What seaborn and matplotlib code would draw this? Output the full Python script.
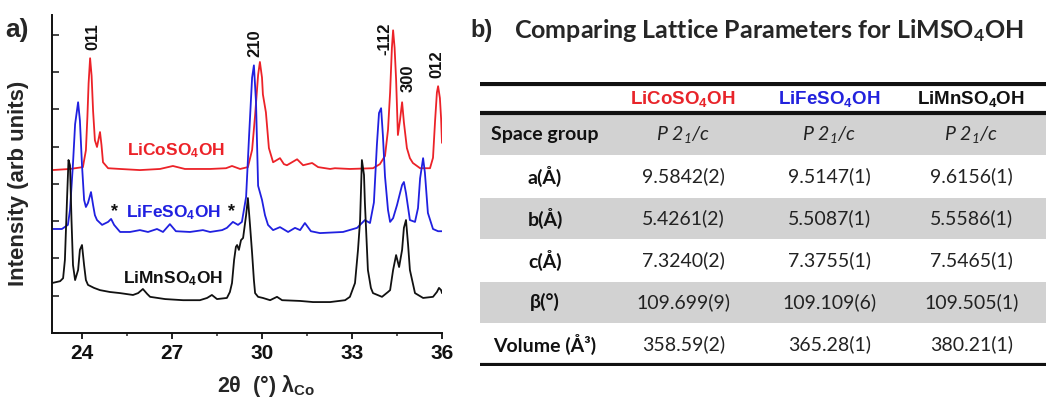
import numpy as np
import pandas as pd
import matplotlib
matplotlib.use("Agg")
import matplotlib.pyplot as plt
from matplotlib.ticker import MultipleLocator
import seaborn as sns

# ---------------- data: panel a (XRD patterns) ----------------
co_2theta = [23.0, 23.6, 24.03, 24.13, 24.18, 24.22, 24.27, 24.32, 24.37, 24.43, 24.5, 24.6, 24.65, 24.7,
             24.87, 25.27, 25.93, 26.6, 27.03, 27.43, 28.27, 28.8, 29.0, 29.27, 29.53, 29.67, 29.77,
             29.87, 29.93, 30.0, 30.03, 30.13, 30.23, 30.37, 30.6, 30.73, 30.83, 31.17, 31.37, 31.67,
             31.87, 32.27, 32.43, 32.93, 33.7, 33.93, 34.1, 34.2, 34.27, 34.33, 34.37, 34.42, 34.47,
             34.53, 34.6, 34.67, 34.73, 34.83, 34.93, 35.03, 35.27, 35.6, 35.7, 35.77, 35.83, 35.87,
             35.93, 35.97, 36.0]
co_int = [4.37, 4.40, 4.45, 4.90, 5.80, 6.70, 7.37, 6.90, 5.95, 5.17, 4.99, 5.39, 5.04, 4.58,
          4.42, 4.40, 4.37, 4.40, 4.48, 4.40, 4.40, 4.42, 4.48, 4.40, 4.45, 4.91, 5.84,
          6.92, 7.27, 6.85, 6.40, 5.92, 4.96, 4.58, 4.69, 4.53, 4.50, 4.66, 4.50, 4.56,
          4.45, 4.40, 4.42, 4.40, 4.42, 4.53, 4.75, 5.45, 6.45, 7.65, 8.12, 7.65, 6.80,
          5.31, 5.71, 6.19, 5.65, 4.96, 4.69, 4.56, 4.42, 4.42, 4.70, 5.70, 6.45, 6.62,
          6.30, 5.75, 5.10]

fe_2theta = [23.0, 23.33, 23.53, 23.6, 23.7, 23.77, 23.87, 23.93, 24.0, 24.07, 24.13, 24.2, 24.3,
             24.37, 24.43, 24.5, 24.67, 24.87, 24.97, 25.07, 25.27, 25.6, 25.93, 26.2, 26.5, 26.7,
             26.93, 27.13, 27.6, 28.03, 28.27, 28.67, 28.83, 29.03, 29.2, 29.33, 29.47, 29.57,
             29.67, 29.73, 29.8, 29.87, 30.0, 30.1, 30.2, 30.37, 30.6, 30.87, 31.1, 31.27, 31.43,
             31.63, 31.93, 32.7, 33.17, 33.43, 33.6, 33.73, 33.83, 33.9, 33.97, 34.03, 34.1, 34.2,
             34.27, 34.37, 34.5, 34.6, 34.67, 34.73, 34.8, 34.93, 35.1, 35.2, 35.27, 35.37, 35.43,
             35.53, 35.7, 35.87, 36.0]
fe_int = [2.79, 2.79, 2.90, 3.30, 4.55, 5.60, 6.19, 5.70, 4.50, 3.57, 3.38, 3.49, 3.78,
          3.43, 3.16, 3.03, 2.90, 2.98, 3.06, 2.90, 2.71, 2.71, 2.76, 2.71, 2.79, 2.71,
          2.92, 2.73, 2.71, 2.76, 2.71, 2.76, 2.82, 2.98, 2.90, 2.98, 3.65, 5.30,
          6.85, 7.18, 6.20, 3.95, 3.57, 3.16, 2.90, 2.76, 2.84, 2.71, 2.82, 2.76, 2.95,
          2.73, 2.68, 2.71, 2.82, 3.03, 2.95, 3.50, 5.05, 5.90, 6.03, 5.30, 4.20, 3.30,
          2.98, 3.08, 3.43, 3.75, 3.97, 4.05, 3.75, 3.03, 2.98, 3.35, 4.15, 4.69, 4.30,
          3.22, 2.79, 2.73, 2.73]

mn_2theta = [23.0, 23.27, 23.37, 23.43, 23.5, 23.55, 23.6, 23.65, 23.7, 23.77, 23.87, 23.93, 24.0,
             24.07, 24.13, 24.2, 24.4, 24.6, 24.93, 25.27, 25.7, 25.87, 26.03, 26.17, 26.27, 26.77,
             27.37, 27.93, 28.17, 28.33, 28.5, 28.83, 28.93, 29.0, 29.07, 29.13, 29.17, 29.23, 29.3,
             29.37, 29.47, 29.53, 29.6, 29.67, 29.73, 29.77, 29.87, 30.03, 30.27, 30.5, 30.67,
             31.27, 31.7, 32.27, 32.77, 32.93, 33.1, 33.2, 33.27, 33.33, 33.4, 33.43, 33.5, 33.53,
             33.63, 33.7, 34.0, 34.2, 34.27, 34.37, 34.47, 34.57, 34.67, 34.73, 34.8, 34.87, 34.93,
             35.1, 35.37, 35.7, 35.83, 35.9, 35.97, 36.0]
mn_int = [1.34, 1.39, 1.47, 1.96, 3.57, 4.64, 4.50, 3.03, 1.82, 1.42, 1.69, 2.23, 2.36,
          1.82, 1.42, 1.29, 1.21, 1.15, 1.10, 1.07, 1.02, 1.07, 1.18, 1.05, 0.97, 0.91,
          0.88, 0.88, 0.94, 1.02, 0.91, 0.94, 1.10, 1.34, 1.96, 2.31, 2.36, 2.23, 2.49,
          2.55, 3.16, 3.62, 2.90, 2.14, 1.42, 1.07, 0.97, 0.94, 0.88, 0.97, 0.88,
          0.86, 0.83, 0.83, 0.88, 0.97, 1.34, 2.23, 3.03, 4.64, 4.24, 3.49, 2.23, 1.69,
          1.21, 1.07, 0.97, 1.10, 1.15, 1.69, 2.09, 1.77, 2.23, 2.82, 3.03, 2.36, 1.69,
          1.07, 0.94, 0.97, 1.10, 1.21, 1.15, 1.07]

sample_names = ["LiCoSO$_4$OH", "LiFeSO$_4$OH", "LiMnSO$_4$OH"]
sample_colors = ["#ec2228", "#2020e0", "#111111"]
peak_labels = ["011", "210", "-112", "300", "012"]
peak_pos = [24.37, 29.77, 34.10, 34.87, 35.83]
peak_lab_y = [7.59, 7.40, 7.45, 6.46, 6.84]
x_ticks = [24, 27, 30, 33, 36]

# ---------------- data: panel b (lattice parameter table) ----------------
row_labels = ["Space group", "a(Å)", "b(Å)", "c(Å)", "β(°)", "Volume (Å³)"]
col_heads = ["LiCoSO$_4$OH", "LiFeSO$_4$OH", "LiMnSO$_4$OH"]
col_colors = ["#e8242a", "#2222dd", "#111111"]
co_vals = ["P 2$_1$/c", "9.5842(2)", "5.4261(2)", "7.3240(2)", "109.699(9)", "358.59(2)"]
fe_vals = ["P 2$_1$/c", "9.5147(1)", "5.5087(1)", "7.3755(1)", "109.109(6)", "365.28(1)"]
mn_vals = ["P 2$_1$/c", "9.6156(1)", "5.5586(1)", "7.5465(1)", "109.505(1)", "380.21(1)"]

# ---------------- style ----------------
sns.set_theme(style="ticks")
plt.rcParams["font.family"] = ["Liberation Sans", "DejaVu Sans"]
plt.rcParams["mathtext.default"] = "regular"
plt.rcParams["axes.linewidth"] = 1.4

W, H = 1046, 398
fig = plt.figure(figsize=(W / 100, H / 100), dpi=100)

# ---------------- panel a ----------------
ax = fig.add_axes([52 / W, 1 - 333 / H, (442 - 52) / W, (333 - 15) / H])
frames = []
for name, xs, ys in zip(sample_names, [co_2theta, fe_2theta, mn_2theta], [co_int, fe_int, mn_int]):
    frames.append(pd.DataFrame({"two_theta": xs, "intensity": ys, "sample": name}))
df = pd.concat(frames, ignore_index=True)
sns.lineplot(data=df, x="two_theta", y="intensity", hue="sample", hue_order=sample_names,
             palette=sample_colors, sort=False, estimator=None, linewidth=1.3,
             legend=False, ax=ax)

ax.set_xlim(23, 36)
ax.set_ylim(0, 8.53)
ax.set_xticks(x_ticks)
ax.xaxis.set_minor_locator(MultipleLocator(1.5))
ax.yaxis.set_major_locator(MultipleLocator(1))
ax.set_yticklabels([])
ax.tick_params(axis="x", which="major", direction="out", length=4, width=1.3,
               labelsize=15, pad=4, colors="#111111")
ax.tick_params(axis="x", which="minor", direction="out", length=2.5, width=1.1)
ax.tick_params(axis="y", which="major", direction="in", length=5, width=1.2)
for lab in ax.get_xticklabels():
    lab.set_fontweight("bold")
sns.despine(ax=ax)
ax.spines["left"].set_color("#111111")
ax.spines["bottom"].set_color("#111111")

ax.set_ylabel("Intensity (arb units)", fontsize=16, fontweight="bold", labelpad=6)
ax.set_xlabel("2θ  (°) λ$_{Co}$", fontsize=15.5, fontweight="bold", labelpad=3)
ax.xaxis.set_label_coords(0.55, -0.125)
ax.yaxis.set_label_coords(-0.058, 0.47)

for lab, xp, yp in zip(peak_labels, peak_pos, peak_lab_y):
    ax.text(xp, yp, lab, rotation=90, ha="center", va="bottom", fontsize=12,
            fontweight="bold", color="#111111")

# curve labels
ax.text(25.5, 4.9, sample_names[0], color=sample_colors[0], fontsize=12.5,
        fontweight="bold", ha="left", va="center")
ax.text(25.47, 3.22, sample_names[1], color=sample_colors[1], fontsize=12.5,
        fontweight="bold", ha="left", va="center")
ax.text(25.37, 1.45, sample_names[2], color=sample_colors[2], fontsize=12.5,
        fontweight="bold", ha="left", va="center")
ax.text(25.1, 3.25, "*", color="#111111", fontsize=13, fontweight="bold", ha="center", va="center")
ax.text(29.0, 3.25, "*", color="#111111", fontsize=13, fontweight="bold", ha="center", va="center")

fig.text(5 / W, 1 - 30 / H, "a)", fontsize=19, fontweight="bold", ha="left", va="center")

# ---------------- panel b ----------------
fig.text(470 / W, 1 - 31 / H, "b)", fontsize=17, fontweight="bold", ha="left", va="center",
         family=["Liberation Sans", "DejaVu Sans"])
fig.text(514 / W, 1 - 31 / H, "Comparing Lattice Parameters for LiMSO$_4$OH", fontsize=18,
         fontweight="bold", ha="left", va="center", family=["Lato", "DejaVu Sans"])

head_h = 31 / 42
tx = fig.add_axes([480 / W, 1 - 366 / H, (W - 480) / W, (366 - 82) / H])
tx.set_xlim(0, 1)
tx.set_ylim(len(row_labels) + 0.02, -head_h)
tx.axis("off")

for i in range(len(row_labels)):
    if i % 2 == 0:
        tx.axhspan(i + 0.02, i + 1, color="#d2d2d2", lw=0)

tx.axhline(-head_h + 0.04, color="#111111", lw=3)
tx.axhline(0, color="#111111", lw=3)
tx.axhline(len(row_labels), color="#111111", lw=3)

col_x = [0.115, 0.359, 0.617, 0.868]
for j, (hd, cc) in enumerate(zip(col_heads, col_colors)):
    tx.text(col_x[j + 1], -head_h / 2 + 0.03, hd, color=cc, fontsize=13.5, fontweight="bold",
            ha="center", va="center", family=["Liberation Sans", "DejaVu Sans"])

for i, rl in enumerate(row_labels):
    tx.text(col_x[0], i + 0.5, rl, fontsize=14, fontweight="bold", ha="center", va="center",
            color="#111111", family=["Lato", "DejaVu Sans"])
    for j, vals in enumerate([co_vals, fe_vals, mn_vals]):
        tx.text(col_x[j + 1], i + 0.5, vals[i], fontsize=14, ha="center", va="center",
                color="#222222", style="italic" if i == 0 else "normal",
                family=["Lato", "DejaVu Sans"])

fig.savefig("out.png", dpi=100)
